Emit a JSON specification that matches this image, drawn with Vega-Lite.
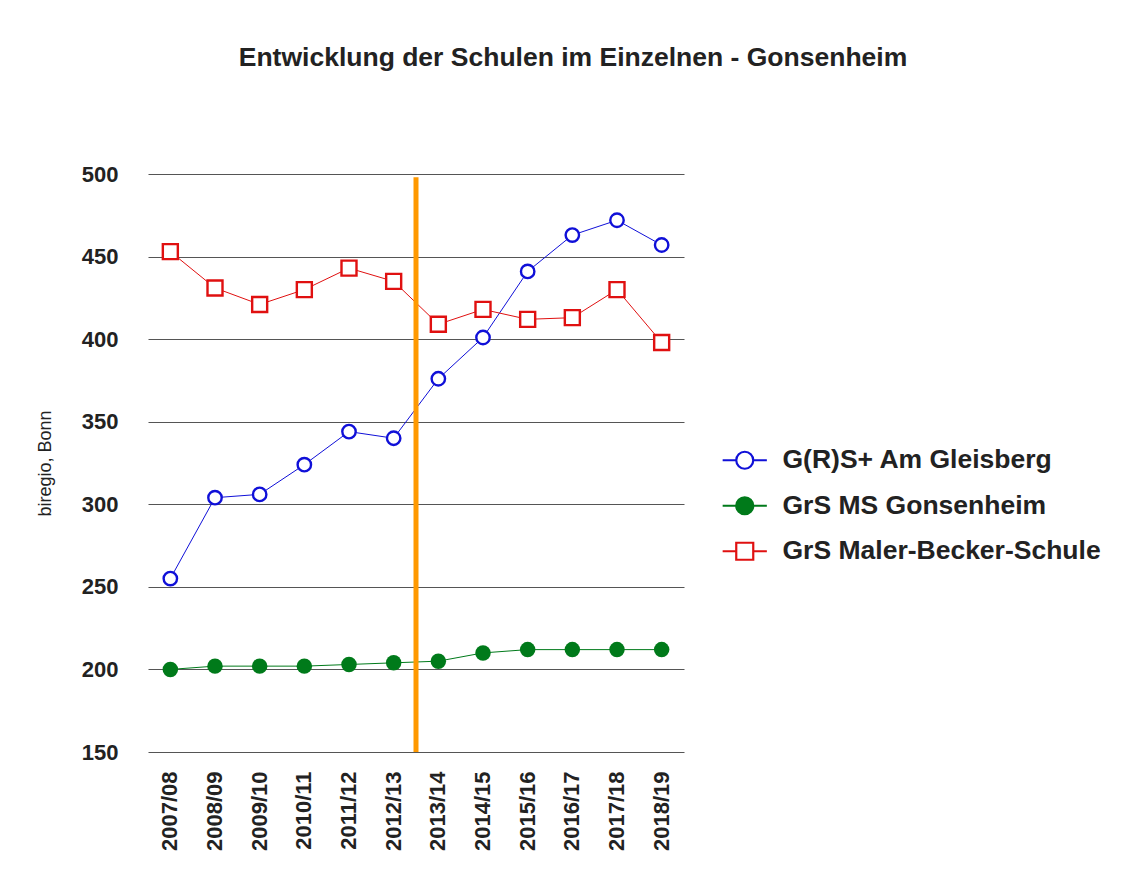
{
  "$schema": "https://vega.github.io/schema/vega-lite/v6.json",
  "width": 536,
  "height": 578,
  "autosize": {"type": "none"},
  "padding": {"left": 148, "top": 174, "right": 449, "bottom": 123},
  "background": "white",
  "config": {
    "view": {"stroke": null},
    "font": "Liberation Sans"
  },
  "title": {
    "text": "Entwicklung der Schulen im Einzelnen - Gonsenheim",
    "font": "Liberation Sans",
    "fontSize": 26.5,
    "fontWeight": "bold",
    "color": "#222",
    "anchor": "middle",
    "dx": 157,
    "offset": 92
  },
  "data": {
    "values": [
      {"season": "2007/08", "school": "G(R)S+ Am Gleisberg", "value": 255},
      {"season": "2008/09", "school": "G(R)S+ Am Gleisberg", "value": 304},
      {"season": "2009/10", "school": "G(R)S+ Am Gleisberg", "value": 306},
      {"season": "2010/11", "school": "G(R)S+ Am Gleisberg", "value": 324},
      {"season": "2011/12", "school": "G(R)S+ Am Gleisberg", "value": 344},
      {"season": "2012/13", "school": "G(R)S+ Am Gleisberg", "value": 340},
      {"season": "2013/14", "school": "G(R)S+ Am Gleisberg", "value": 376},
      {"season": "2014/15", "school": "G(R)S+ Am Gleisberg", "value": 401},
      {"season": "2015/16", "school": "G(R)S+ Am Gleisberg", "value": 441},
      {"season": "2016/17", "school": "G(R)S+ Am Gleisberg", "value": 463},
      {"season": "2017/18", "school": "G(R)S+ Am Gleisberg", "value": 472},
      {"season": "2018/19", "school": "G(R)S+ Am Gleisberg", "value": 457},
      {"season": "2007/08", "school": "GrS MS Gonsenheim", "value": 200},
      {"season": "2008/09", "school": "GrS MS Gonsenheim", "value": 202},
      {"season": "2009/10", "school": "GrS MS Gonsenheim", "value": 202},
      {"season": "2010/11", "school": "GrS MS Gonsenheim", "value": 202},
      {"season": "2011/12", "school": "GrS MS Gonsenheim", "value": 203},
      {"season": "2012/13", "school": "GrS MS Gonsenheim", "value": 204},
      {"season": "2013/14", "school": "GrS MS Gonsenheim", "value": 205},
      {"season": "2014/15", "school": "GrS MS Gonsenheim", "value": 210},
      {"season": "2015/16", "school": "GrS MS Gonsenheim", "value": 212},
      {"season": "2016/17", "school": "GrS MS Gonsenheim", "value": 212},
      {"season": "2017/18", "school": "GrS MS Gonsenheim", "value": 212},
      {"season": "2018/19", "school": "GrS MS Gonsenheim", "value": 212},
      {"season": "2007/08", "school": "GrS Maler-Becker-Schule", "value": 453},
      {"season": "2008/09", "school": "GrS Maler-Becker-Schule", "value": 431},
      {"season": "2009/10", "school": "GrS Maler-Becker-Schule", "value": 421},
      {"season": "2010/11", "school": "GrS Maler-Becker-Schule", "value": 430},
      {"season": "2011/12", "school": "GrS Maler-Becker-Schule", "value": 443},
      {"season": "2012/13", "school": "GrS Maler-Becker-Schule", "value": 435},
      {"season": "2013/14", "school": "GrS Maler-Becker-Schule", "value": 409},
      {"season": "2014/15", "school": "GrS Maler-Becker-Schule", "value": 418},
      {"season": "2015/16", "school": "GrS Maler-Becker-Schule", "value": 412},
      {"season": "2016/17", "school": "GrS Maler-Becker-Schule", "value": 413},
      {"season": "2017/18", "school": "GrS Maler-Becker-Schule", "value": 430},
      {"season": "2018/19", "school": "GrS Maler-Becker-Schule", "value": 398}
    ]
  },
  "encoding": {
    "x": {
      "field": "season",
      "type": "ordinal",
      "scale": {
        "type": "band",
        "paddingInner": 0,
        "paddingOuter": 0,
        "domain": ["2007/08", "2008/09", "2009/10", "2010/11", "2011/12", "2012/13", "2013/14", "2014/15", "2015/16", "2016/17", "2017/18", "2018/19"]
      },
      "axis": {
        "title": null,
        "labelAngle": -90,
        "labelAlign": "right",
        "labelBaseline": "middle",
        "labelPadding": 19,
        "labelFont": "Liberation Sans",
        "labelFontSize": 22,
        "labelFontWeight": "bold",
        "labelColor": "#222",
        "ticks": false,
        "domain": false,
        "grid": false
      }
    },
    "y": {
      "field": "value",
      "type": "quantitative",
      "scale": {"domain": [150, 500], "nice": false, "zero": false},
      "axis": {
        "title": "biregio, Bonn",
        "titleFont": "Liberation Sans",
        "titleFontSize": 18,
        "titleFontWeight": "normal",
        "titleColor": "#222",
        "titlePadding": 27,
        "values": [150, 200, 250, 300, 350, 400, 450, 500],
        "labelFont": "Liberation Sans",
        "labelFontSize": 22,
        "labelFontWeight": "bold",
        "labelColor": "#222",
        "labelPadding": 30,
        "ticks": false,
        "domain": false,
        "grid": true,
        "gridColor": "#555",
        "gridWidth": 1
      }
    },
    "color": {
      "field": "school",
      "type": "nominal",
      "scale": {
        "domain": ["G(R)S+ Am Gleisberg", "GrS MS Gonsenheim", "GrS Maler-Becker-Schule"],
        "range": ["#1010d8", "#007a1a", "#e01010"]
      },
      "legend": {
        "orient": "none",
        "legendX": 583.5,
        "legendY": 273,
        "title": null,
        "padding": 0,
        "symbolSize": 289,
        "symbolStrokeWidth": 2.2,
        "labelOffset": 24.5,
        "rowPadding": 18.5,
        "labelFont": "Liberation Sans",
        "labelFontSize": 26.5,
        "labelFontWeight": "bold",
        "labelColor": "#222",
        "labelLimit": 400,
        "encode": {
          "symbols": {
            "update": {
              "shape": {"signal": "datum.value == 'GrS Maler-Becker-Schule' ? 'M-2.6,0H-1M1,0H2.6M-1,-1H1V1H-1Z' : 'M-2.6,0H-1M1,0H2.6M-1,0A1,1,0,1,1,1,0A1,1,0,1,1,-1,0Z'"},
              "fill": {"signal": "datum.value == 'GrS MS Gonsenheim' ? '#007a1a' : '#ffffff'"},
              "stroke": {"signal": "datum.value == 'GrS MS Gonsenheim' ? '#007a1a' : (datum.value == 'GrS Maler-Becker-Schule' ? '#e01010' : '#1010d8')"},
              "size": {"value": 289},
              "strokeWidth": {"value": 2.2},
              "opacity": {"value": 1}
            }
          }
        }
      }
    }
  },
  "layer": [
    {
      "mark": {"type": "line", "strokeWidth": 1}
    },
    {
      "transform": [{"filter": "datum.school == 'G(R)S+ Am Gleisberg'"}],
      "mark": {"type": "point", "shape": "circle", "filled": false, "fill": "#ffffff", "size": 180, "strokeWidth": 2.4, "opacity": 1}
    },
    {
      "transform": [{"filter": "datum.school == 'GrS MS Gonsenheim'"}],
      "mark": {"type": "point", "shape": "circle", "filled": true, "size": 240, "opacity": 1},
      "encoding": {"color": {"value": "#007a1a"}}
    },
    {
      "transform": [{"filter": "datum.school == 'GrS Maler-Becker-Schule'"}],
      "mark": {"type": "point", "shape": "square", "filled": false, "fill": "#ffffff", "size": 225, "strokeWidth": 2.4, "opacity": 1}
    },
    {
      "data": {"values": [{"season": "2012/13", "lo": 150, "hi": 498}]},
      "mark": {"type": "rule", "color": "#ff9900", "strokeWidth": 5},
      "encoding": {
        "x": {"field": "season", "type": "ordinal", "bandPosition": 1},
        "y": {"field": "lo", "type": "quantitative"},
        "y2": {"field": "hi"},
        "color": {"value": "#ff9900"}
      }
    }
  ]
}
